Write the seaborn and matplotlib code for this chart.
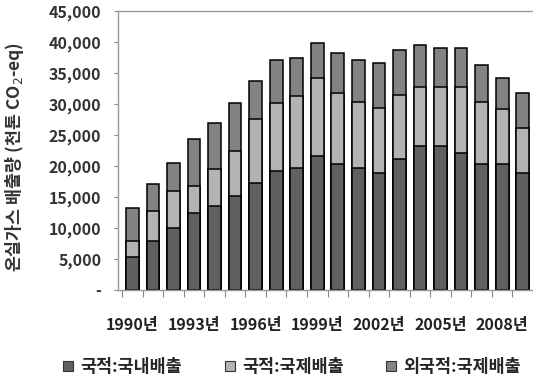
import matplotlib
matplotlib.use("Agg")
import matplotlib.pyplot as plt
from matplotlib.lines import Line2D
import seaborn as sns
import pandas as pd
import numpy as np

years = [f"{y}년" for y in range(1990, 2010)]
domestic = [5270, 7950, 10050, 12470, 13550, 15160, 17310, 19190, 19730, 21560,
            20270, 19730, 18930, 21080, 23230, 23230, 22150, 20270, 20270, 18820]
intl_national = [2680, 4790, 5870, 4310, 5910, 7260, 10220, 10920, 11560, 12580,
                 11460, 10640, 10380, 10370, 9570, 9570, 10650, 10100, 8880, 7360]
intl_foreign = [5320, 4360, 4570, 7520, 7530, 7790, 6180, 6990, 6130, 5700,
                6550, 6730, 7360, 7260, 6720, 6180, 6180, 5920, 4990, 5550]
series_names = ["국적:국내배출", "국적:국제배출", "외국적:국제배출"]
colors = ["#606060", "#b3b3b3", "#838383"]

sns.set_style("white")
plt.rcParams["font.family"] = ["Noto Sans CJK KR", "DejaVu Sans"]

df = pd.DataFrame({"year": years, "a": domestic, "b": intl_national, "c": intl_foreign})
df["s1"] = df["a"]
df["s2"] = df["a"] + df["b"]
df["s3"] = df["a"] + df["b"] + df["c"]

fig = plt.figure(figsize=(5.33, 3.88), dpi=100)
ax = fig.add_axes([0.2214, 0.2526, 0.7786, 0.719])

# cumulative layers drawn from the top down so each covers the one above
for col, colr in zip(["s3", "s2", "s1"], [colors[2], colors[1], colors[0]]):
    sns.barplot(data=df, x="year", y=col, color=colr, width=0.62,
                edgecolor="black", linewidth=1.1, saturation=1, ax=ax,
                errorbar=None)

ax.set_ylim(0, 45000)
ax.set_xlim(-0.70, 19.39)
yt = np.arange(0, 45001, 5000)
ax.set_yticks(yt)
ax.set_yticklabels(["-"] + [f"{v:,}" for v in yt[1:]], fontsize=11.5,
                   fontweight="bold", color="#333333")
ax.set_xticks(np.arange(-0.5, 19.6, 1.0))
ax.set_xticklabels([])
for i in range(0, 20, 3):
    ax.text(i, -0.125, years[i], transform=ax.get_xaxis_transform(),
            ha="center", va="center", fontsize=11.5, fontweight="bold",
            color="#222222")
ax.tick_params(axis="y", length=3, width=0.8, color="#888888", pad=9)
ax.tick_params(axis="x", length=5, width=0.8, color="#888888", direction="out")
ax.tick_params(bottom=True, left=True)
ax.set_xlabel("")
ax.set_ylabel("온실가스 배출량 (천톤 CO$_2$-eq)", fontsize=12.5,
              fontweight="bold", color="#333333")
ax.yaxis.set_label_coords(-0.222, 0.477)

for s in ["left", "bottom", "top"]:
    ax.spines[s].set_color("#999999")
    ax.spines[s].set_linewidth(1.0)
ax.spines["right"].set_visible(False)

handles = [Line2D([0], [0], marker="s", linestyle="none", markersize=6.5,
                  markerfacecolor=c, markeredgecolor="#333333",
                  markeredgewidth=0.8) for c in colors]
fig.legend(handles, series_names, loc="center", bbox_to_anchor=(0.547, 0.055),
           ncol=3, frameon=False, handlelength=0.7,
           handletextpad=0.35, columnspacing=2.4,
           prop={"weight": "bold", "size": 12.5})

fig.savefig("out.png", dpi=100)
